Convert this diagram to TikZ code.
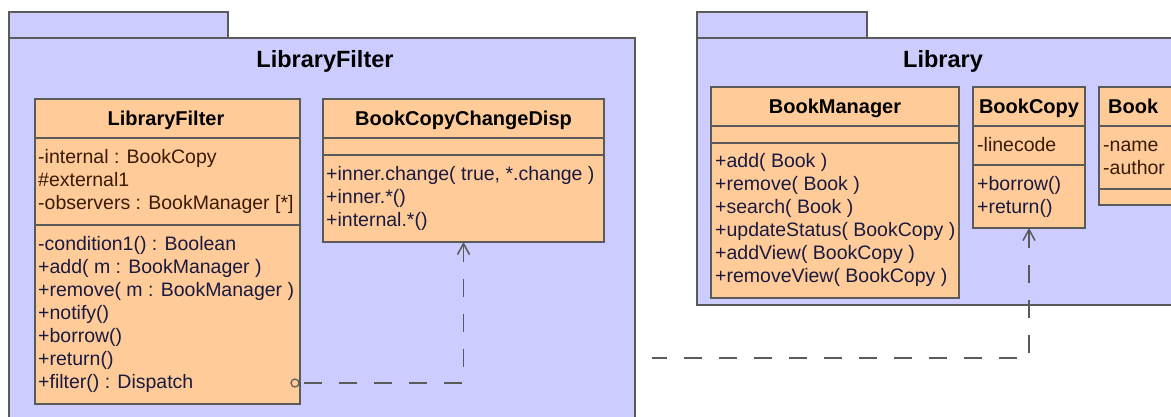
\documentclass[tikz,border=0pt]{standalone}
\usepackage{fontspec}
\setmainfont{Liberation Sans}
\usetikzlibrary{arrows.meta}

\definecolor{pkgfill}{HTML}{CCCCFF}
\definecolor{clsfill}{HTML}{FFCC99}
\definecolor{edgegray}{HTML}{5A5A5A}
\definecolor{attrtext}{HTML}{3A1A08}
\definecolor{optext}{HTML}{1A1A40}

\begin{document}
\begin{tikzpicture}[x=1pt,y=-1pt,
  pkgbox/.style={draw=edgegray, fill=pkgfill, line width=1.5pt, inner sep=0pt, outer sep=0pt, anchor=north west},
  clsbox/.style={draw=edgegray, fill=clsfill, line width=1.5pt, inner sep=0pt, outer sep=0pt, anchor=north west},
  sepline/.style={draw=edgegray, line width=1.5pt},
  pkgtitle/.style={font=\fontsize{23.5}{26}\selectfont\bfseries, anchor=base, inner sep=0pt},
  clshead/.style={font=\fontsize{20}{23}\selectfont\bfseries, anchor=base, inner sep=0pt},
  attrline/.style={font=\fontsize{19.5}{23}\selectfont, text=attrtext, anchor=base west, inner sep=0pt},
  opline/.style={font=\fontsize{19.5}{23}\selectfont, text=optext, anchor=base west, inner sep=0pt},
  depline/.style={draw=edgegray, line width=1.5pt, dash pattern=on 18pt off 17pt},
  deptip/.style={{Straight Barb[length=11pt,width=12pt]}-},
  port/.style={circle, draw=edgegray, fill=clsfill, line width=1.2pt, minimum size=8pt, inner sep=0pt}
]
\useasboundingbox (0,0) rectangle (1171,416);
\clip (0,0) rectangle (1171,416);

% ---------- package LibraryFilter ----------
\node[pkgbox, minimum width=219pt, minimum height=26pt] (PFtab) at (9,12) {};
\node[pkgbox, minimum width=626pt, minimum height=420pt] (PF) at (9,38) {};
\node[pkgtitle] (PFtitle) at (325,67) {LibraryFilter};

% class LibraryFilter
\node[clsbox, minimum width=265pt, minimum height=305pt] (LF) at (35,99) {};
\draw[sepline] (35,138) -- (300,138);
\draw[sepline] (35,225) -- (300,225);
\node[clshead] (LFhead) at (166,125) {LibraryFilter};
\foreach \t [count=\i from 0] in {-internal : BookCopy, \#external1, -observers : BookManager [*]}
  \node[attrline, name=LFa\i] at (38,163+23*\i) {\t};
\foreach \t [count=\i from 0] in {-condition1() : Boolean, +add( m : BookManager ), +remove( m : BookManager ), +notify(), +borrow(), +return(), +filter() : Dispatch}
  \node[opline, name=LFo\i] at (38,250+23*\i) {\t};
\node[port] (LFport) at (295,383) {};

% class BookCopyChangeDisp
\node[clsbox, minimum width=281pt, minimum height=143pt] (BCD) at (323,99) {};
\draw[sepline] (323,138) -- (604,138);
\draw[sepline] (323,155) -- (604,155);
\node[clshead] (BCDhead) at (463.5,125) {BookCopyChangeDisp};
\foreach \t [count=\i from 0] in {{+inner.change( true, *.change )}, +inner.*(), +internal.*()}
  \node[opline, name=BCDo\i] at (326,180+23*\i) {\t};

% ---------- package Library ----------
\node[pkgbox, minimum width=170pt, minimum height=26pt] (PLtab) at (697,12) {};
\node[pkgbox, minimum width=520pt, minimum height=267pt] (PL) at (697,38) {};
\node[pkgtitle] (PLtitle) at (943,67) {Library};

% class BookManager
\node[clsbox, minimum width=248pt, minimum height=211pt] (BM) at (711,87) {};
\draw[sepline] (711,126) -- (959,126);
\draw[sepline] (711,143) -- (959,143);
\node[clshead] (BMhead) at (835,113) {BookManager};
\foreach \t [count=\i from 0] in {+add( Book ), +remove( Book ), +search( Book ), +updateStatus( BookCopy ), +addView( BookCopy ), +removeView( BookCopy )}
  \node[opline, name=BMo\i] at (715,167+23*\i) {\t};

% class BookCopy
\node[clsbox, minimum width=112pt, minimum height=141pt] (BC) at (973,87) {};
\draw[sepline] (973,126) -- (1085,126);
\draw[sepline] (973,165) -- (1085,165);
\node[clshead] (BChead) at (1029,113) {BookCopy};
\node[attrline] (BCa0) at (977,151) {-linecode};
\node[opline] (BCo0) at (977,190) {+borrow()};
\node[opline] (BCo1) at (977,213) {+return()};

% class Book
\node[clsbox, minimum width=130pt, minimum height=118pt] (BK) at (1099,87) {};
\draw[sepline] (1099,126) -- (1229,126);
\draw[sepline] (1099,189) -- (1229,189);
\node[clshead, anchor=base west] (BKhead) at (1108,113) {Book};
\node[attrline] (BKa0) at (1103,151) {-name};
\node[attrline] (BKa1) at (1103,174) {-author};

% ---------- dependencies ----------
\draw[depline, deptip] (BCD.south) |- (LFport.east);
\coordinate (ext) at (652,358);
\draw[depline, deptip] (BC.south) |- (ext);
\end{tikzpicture}
\end{document}
